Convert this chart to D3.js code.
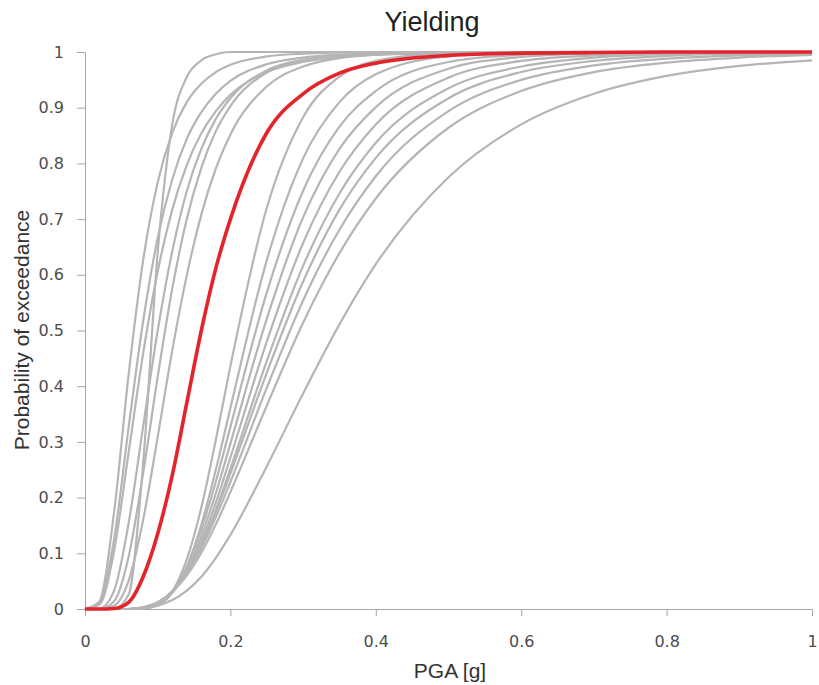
<!DOCTYPE html>
<html>
<head>
<meta charset="utf-8">
<script src="https://cdn.jsdelivr.net/npm/d3@7"></script>
<style>
    body { margin: 0; background: #fff; }
    .tick text { font-family: "DejaVu Sans", sans-serif; font-size: 16px; fill: #4d4d4d; }
    .tick line, .domain { stroke: #a6a6a6; }
</style>
</head>
<body>
<div id="my_dataviz"></div>
<script>
// PGA grid the curves are read at
const pga = [0, 0.02, 0.04, 0.06, 0.08, 0.10, 0.12, 0.14, 0.16, 0.18, 0.20,
             0.25, 0.30, 0.35, 0.40, 0.50, 0.60, 0.70, 0.80, 0.90, 1.00];

// Probability of exceedance for each grey curve, one value per pga point
const grayCurves = [
    [0, 0.014, 0.174, 0.421, 0.626, 0.766, 0.855, 0.910, 0.943, 0.964, 0.977, 0.992, 0.997, 0.999, 1, 1, 1, 1, 1, 1, 1],
    [0, 0.010, 0.125, 0.326, 0.517, 0.666, 0.771, 0.844, 0.892, 0.925, 0.948, 0.978, 0.990, 0.995, 0.998, 1, 1, 1, 1, 1, 1],
    [0, 0.008, 0.104, 0.281, 0.459, 0.606, 0.717, 0.797, 0.854, 0.894, 0.923, 0.964, 0.982, 0.991, 0.995, 0.998, 1, 1, 1, 1, 1],
    [0, 0, 0, 0.026, 0.262, 0.640, 0.870, 0.955, 0.985, 0.996, 1, 1, 1, 1, 1, 1, 1, 1, 1, 1, 1],
    [0, 0.001, 0.033, 0.154, 0.328, 0.500, 0.642, 0.750, 0.826, 0.880, 0.917, 0.967, 0.986, 0.994, 0.997, 0.999, 1, 1, 1, 1, 1],
    [0, 0, 0.014, 0.094, 0.244, 0.417, 0.575, 0.700, 0.792, 0.858, 0.903, 0.963, 0.985, 0.994, 0.997, 1, 1, 1, 1, 1, 1],
    [0, 0, 0.006, 0.051, 0.160, 0.309, 0.464, 0.599, 0.708, 0.791, 0.852, 0.938, 0.974, 0.989, 0.995, 0.999, 1, 1, 1, 1, 1],
    [0, 0, 0, 0, 0.001, 0.007, 0.031, 0.089, 0.182, 0.304, 0.436, 0.720, 0.883, 0.956, 0.984, 0.998, 1, 1, 1, 1, 1],
    [0, 0, 0, 0, 0.001, 0.007, 0.029, 0.076, 0.151, 0.250, 0.361, 0.626, 0.809, 0.910, 0.960, 0.992, 0.998, 1, 1, 1, 1],
    [0, 0, 0, 0, 0.001, 0.009, 0.031, 0.075, 0.143, 0.229, 0.327, 0.568, 0.751, 0.866, 0.930, 0.982, 0.995, 0.999, 1, 1, 1],
    [0, 0, 0, 0, 0.002, 0.009, 0.030, 0.070, 0.131, 0.208, 0.297, 0.521, 0.703, 0.826, 0.901, 0.970, 0.991, 0.997, 0.999, 1, 1],
    [0, 0, 0, 0, 0.002, 0.010, 0.030, 0.067, 0.121, 0.191, 0.272, 0.480, 0.657, 0.785, 0.870, 0.954, 0.984, 0.994, 0.998, 0.999, 1],
    [0, 0, 0, 0, 0.002, 0.010, 0.030, 0.064, 0.115, 0.178, 0.252, 0.445, 0.616, 0.746, 0.837, 0.935, 0.974, 0.990, 0.996, 0.998, 0.999],
    [0, 0, 0, 0, 0.003, 0.011, 0.032, 0.066, 0.114, 0.174, 0.243, 0.424, 0.588, 0.717, 0.810, 0.917, 0.964, 0.984, 0.993, 0.997, 0.998],
    [0, 0, 0, 0, 0.003, 0.012, 0.032, 0.064, 0.109, 0.165, 0.228, 0.397, 0.554, 0.681, 0.777, 0.894, 0.950, 0.976, 0.988, 0.994, 0.997],
    [0, 0, 0, 0, 0.003, 0.012, 0.031, 0.060, 0.101, 0.152, 0.210, 0.365, 0.514, 0.639, 0.737, 0.864, 0.930, 0.964, 0.981, 0.990, 0.995],
    [0, 0, 0, 0, 0.001, 0.006, 0.016, 0.033, 0.058, 0.092, 0.133, 0.256, 0.387, 0.511, 0.619, 0.775, 0.870, 0.925, 0.957, 0.975, 0.985]
];

// The highlighted (red) curve
const redCurve = [0, 0, 0.001, 0.012, 0.058, 0.135, 0.240, 0.370, 0.500, 0.612, 0.700,
                  0.855, 0.925, 0.962, 0.980, 0.994, 0.998, 0.999, 1, 1, 1];

const xTicks = [0, 0.2, 0.4, 0.6, 0.8, 1];
const yTicks = [0, 0.1, 0.2, 0.3, 0.4, 0.5, 0.6, 0.7, 0.8, 0.9, 1];

var margin = { top: 52, right: 7, bottom: 76, left: 85 },
    width = 819 - margin.left - margin.right,
    height = 685 - margin.top - margin.bottom;

var svg = d3.select("#my_dataviz")
    .append("svg")
    .attr("width", width + margin.left + margin.right)
    .attr("height", height + margin.top + margin.bottom)
    .append("g")
    .attr("transform", "translate(" + margin.left + "," + margin.top + ")");

var x = d3.scaleLinear().domain([0, 1]).range([0, width]);
var y = d3.scaleLinear().domain([0, 1]).range([height, 0]);

// X axis
svg.append("g")
    .attr("transform", "translate(0," + height + ")")
    .call(d3.axisBottom(x).tickValues(xTicks).tickSize(7).tickPadding(20)
        .tickFormat(d3.format("~g")));

// Y axis
svg.append("g")
    .call(d3.axisLeft(y).tickValues(yTicks).tickSize(8).tickPadding(13)
        .tickFormat(d3.format("~g")));

// Curves
var line = d3.line()
    .x((d, i) => x(pga[i]))
    .y(d => y(d))
    .curve(d3.curveMonotoneX);

svg.append("g")
    .selectAll("path")
    .data(grayCurves)
    .enter()
    .append("path")
    .attr("d", line)
    .attr("fill", "none")
    .attr("stroke", "#b5b5b5")
    .attr("stroke-width", 2.2)
    .attr("stroke-linejoin", "round");

svg.append("path")
    .attr("d", line(redCurve))
    .attr("fill", "none")
    .attr("stroke", "#e3242b")
    .attr("stroke-width", 3.6)
    .attr("stroke-linejoin", "round");

// Title
svg.append("text")
    .attr("text-anchor", "middle")
    .attr("x", 432 - margin.left)
    .attr("y", 31 - margin.top)
    .style("font-family", "'Liberation Sans', Arial, sans-serif")
    .style("font-size", "27px")
    .style("fill", "#222")
    .text("Yielding");

// X axis label
svg.append("text")
    .attr("text-anchor", "middle")
    .attr("x", 450 - margin.left)
    .attr("y", 678 - margin.top)
    .style("font-family", "'Liberation Sans', Arial, sans-serif")
    .style("font-size", "21px")
    .style("fill", "#333")
    .text("PGA [g]");

// Y axis label
svg.append("text")
    .attr("text-anchor", "middle")
    .attr("transform", "rotate(-90)")
    .attr("x", -(330 - margin.top))
    .attr("y", 29 - margin.left)
    .style("font-family", "'Liberation Sans', Arial, sans-serif")
    .style("font-size", "21px")
    .style("fill", "#333")
    .text("Probability of exceedance");
</script>
</body>
</html>
